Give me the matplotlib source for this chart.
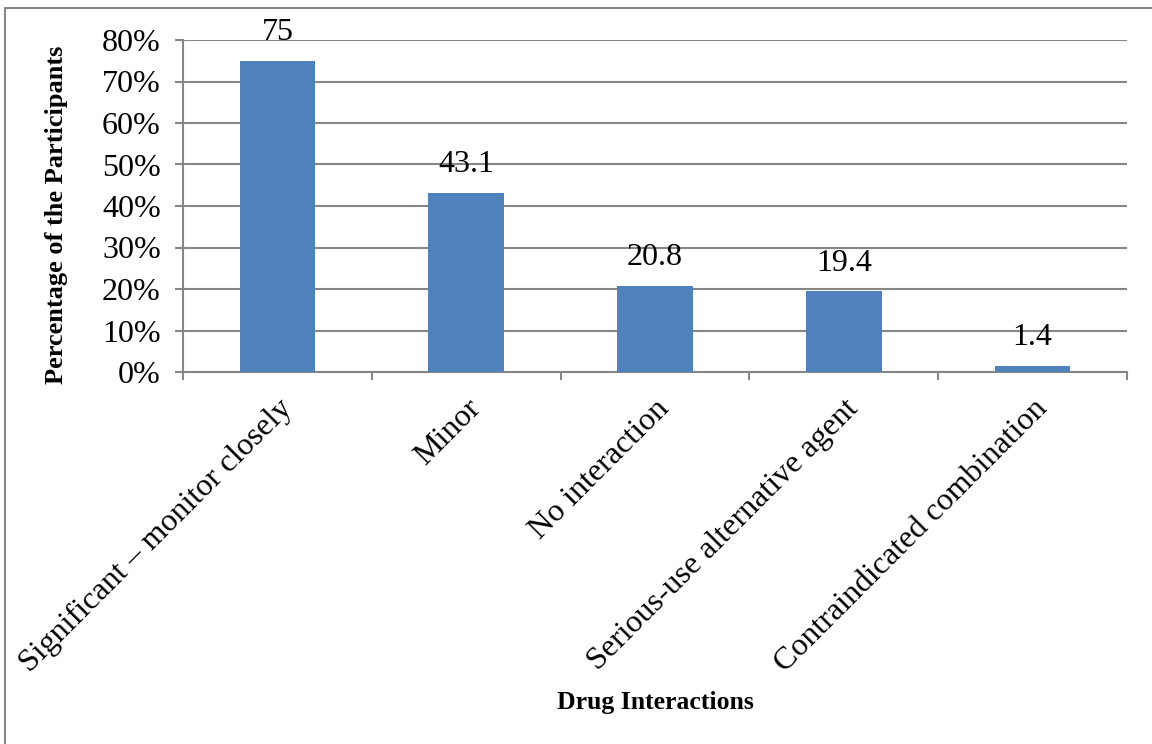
import numpy as np
import matplotlib.pyplot as plt
from matplotlib.ticker import FuncFormatter, FixedLocator
from matplotlib.patches import Rectangle

categories = ['Significant \u2013 monitor closely', 'Minor', 'No interaction',
              'Serious-use alternative agent', 'Contraindicated combination']
values = [75, 43.1, 20.8, 19.4, 1.4]
value_labels = ['75', '43.1', '20.8', '19.4', '1.4']

plt.rcParams['font.family'] = ['Liberation Serif', 'DejaVu Serif']

fig = plt.figure(figsize=(11.52, 7.44), dpi=100)
ax = fig.add_axes([183 / 1152, 1 - 372 / 744, (1127 - 183) / 1152, (372 - 40) / 744])

x = np.arange(len(categories))
bars = ax.bar(x, values, width=0.4, color='#4F81BD', zorder=3)

ax.set_xlim(-0.5, len(categories) - 0.5)
ax.set_ylim(0, 80)
ax.set_yticks(np.arange(0, 81, 10))
ax.yaxis.set_major_formatter(FuncFormatter(lambda v, p: '%d%%' % v))
ax.grid(axis='y', color='#868686', linewidth=1.5, zorder=0)

ax.set_xticks(x)
ax.set_xticklabels(categories, rotation=45, ha='right', va='top',
                   rotation_mode='anchor', fontsize=23)
ax.xaxis.set_minor_locator(FixedLocator(np.arange(-0.5, len(categories), 1)))
ax.tick_params(axis='x', which='major', length=0, pad=16)
ax.tick_params(axis='x', which='minor', length=6, width=1.5, color='#868686')
ax.tick_params(axis='y', length=6, width=1.5, color='#868686', labelsize=23, pad=10)

for s in ['top', 'right']:
    ax.spines[s].set_visible(False)
for s in ['left', 'bottom']:
    ax.spines[s].set_color('#868686')
    ax.spines[s].set_linewidth(1.5)

for b, lab in zip(bars, value_labels):
    ax.annotate(lab, (b.get_x() + b.get_width() / 2, b.get_height()),
                xytext=(0, 10), textcoords='offset points',
                ha='center', va='bottom', fontsize=23)

fig.text(57 / 1152, 1 - 215 / 744, 'Percentage of the Participants', fontsize=19,
         fontweight='bold', rotation=90, ha='center', va='center')
fig.text(655 / 1152, 1 - 703 / 744, 'Drug Interactions', fontsize=18.5,
         fontweight='bold', ha='center', va='center')

# outer frame around the chart area
fig.patches.append(Rectangle((5 / 1152, -0.1), 1.2, 1 - 8 / 744 + 0.1,
                             transform=fig.transFigure, fill=False,
                             edgecolor='#868686', linewidth=1.5))

fig.savefig('out.png', dpi=100, facecolor='white')
